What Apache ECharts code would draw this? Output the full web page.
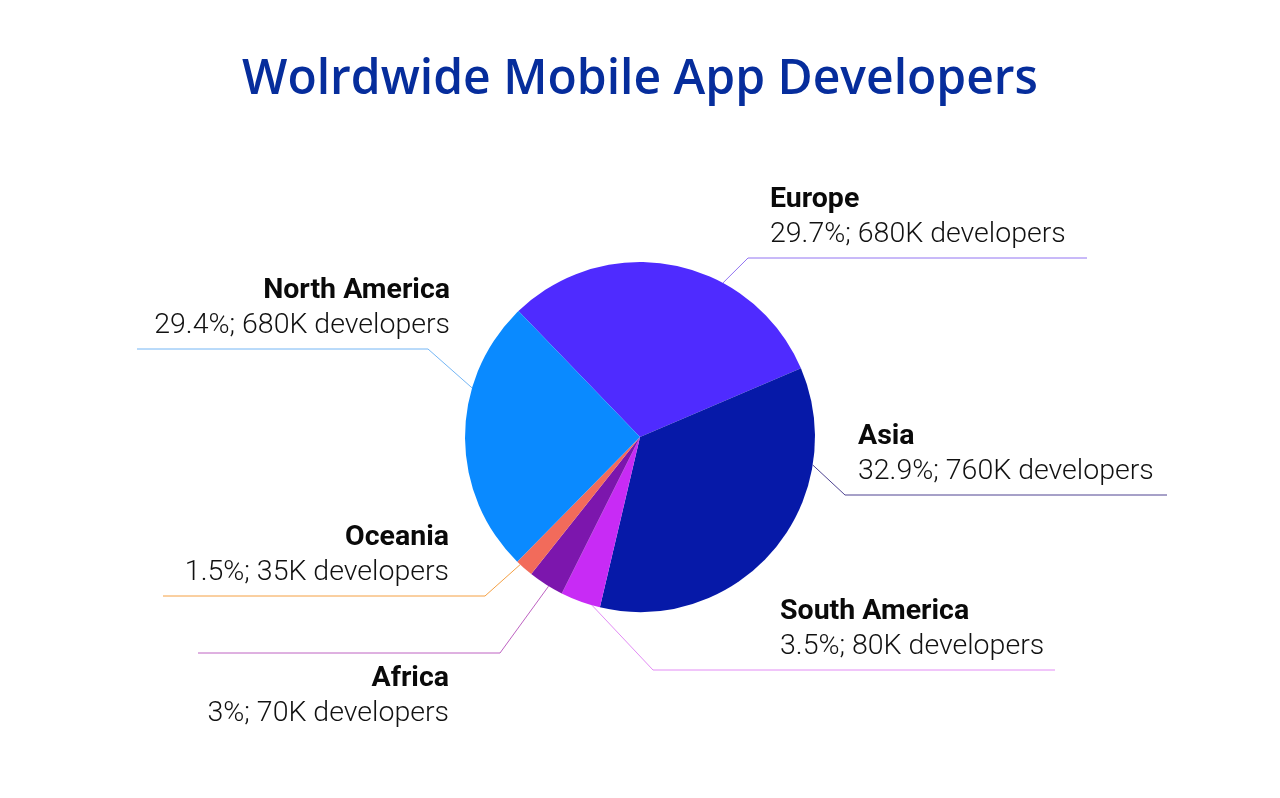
<!DOCTYPE html>
<html><head><meta charset="utf-8">
<script src="https://cdn.jsdelivr.net/npm/echarts@6/dist/echarts.min.js"></script>
<style>html,body{margin:0;padding:0;background:#fff}#c{width:1280px;height:798px}</style>
</head><body><div id="c"></div>
<script>
// ---- data ----
const regions = ['Europe', 'Asia', 'South America', 'Africa', 'Oceania', 'North America'];
const sliceShares = [30.8, 35.1, 3.7, 3.3, 1.7, 25.4];           // visual share of each slice
const labelPercents = ['29.7%', '32.9%', '3.5%', '3%', '1.5%', '29.4%'];
const developerCounts = ['680K', '760K', '80K', '70K', '35K', '680K'];

// ---- styles ----
const sliceColors = ['#4F2BFF', '#0619A8', '#C82BF5', '#7C16AD', '#F26B5B', '#0A8AFF'];
const lineColors  = ['#9274F2', '#4E4391', '#E38CF5', '#BE62C2', '#F5A043', '#74B6F5'];
const CX = 640, CY = 437, R = 175;
// label geometry: anchor angle on rim, elbow point, end x of horizontal leg, text anchor x, text above line?
const labelGeom = [
  {a: 61.7,   ex: 748, ey: 258, endX: 1087, tx: 770, align: 'left',  above: true},
  {a: -9.2,   ex: 845, ey: 495, endX: 1167, tx: 858, align: 'left',  above: true},
  {a: -105.9, ex: 653, ey: 670, endX: 1055, tx: 780, align: 'left',  above: true},
  {a: -121.5, ex: 500, ey: 653, endX: 198,  tx: 449, align: 'right', above: false},
  {a: -133.2, ex: 485, ey: 596, endX: 163,  tx: 449, align: 'right', above: true},
  {a: 163.7,  ex: 428, ey: 349, endX: 137,  tx: 450, align: 'right', above: true}
];

const chart = echarts.init(document.getElementById('c'), null, {renderer: 'canvas'});
const data = regions.map((name, i) => ({
  name: name,
  value: sliceShares[i],
  itemStyle: {color: sliceColors[i]},
  labelLine: {lineStyle: {color: lineColors[i], width: 1}},
  label: {
    formatter: '{n|' + name + '}\n{v|' + labelPercents[i] + '; ' + developerCounts[i] + ' developers}'
  }
}));

chart.setOption({
  backgroundColor: '#ffffff',
  animation: false,
  title: {
    text: 'Wolrdwide Mobile App Developers',
    left: 'center',
    top: 51,
    textStyle: {fontFamily: 'Open Sans', fontWeight: 600, fontSize: 48, color: '#062D9C'}
  },
  series: [{
    type: 'pie',
    center: [CX, CY],
    radius: [0, R],
    startAngle: 134,
    clockwise: true,
    data: data,
    label: {
      show: true,
      position: 'outside',
      rich: {
        n: {fontFamily: 'Roboto', fontWeight: 'bold', fontSize: 28.5, color: '#0a0a0a', lineHeight: 35},
        v: {fontFamily: 'Roboto', fontWeight: 300, fontSize: 28.5, color: '#111111', lineHeight: 35}
      }
    },
    labelLine: {show: true, length: 20, length2: 20},
    emphasis: {disabled: true},
    labelLayout: function (p) {
      const g = labelGeom[p.dataIndex];
      const rad = g.a * Math.PI / 180;
      const sx = CX + R * Math.cos(rad), sy = CY - R * Math.sin(rad);
      return {
        x: g.tx,
        y: g.above ? g.ey - 6 : g.ey + 8,
        align: g.align,
        verticalAlign: g.above ? 'bottom' : 'top',
        labelLinePoints: [[sx, sy], [g.ex, g.ey], [g.endX, g.ey]]
      };
    }
  }]
});
</script>
</body></html>
